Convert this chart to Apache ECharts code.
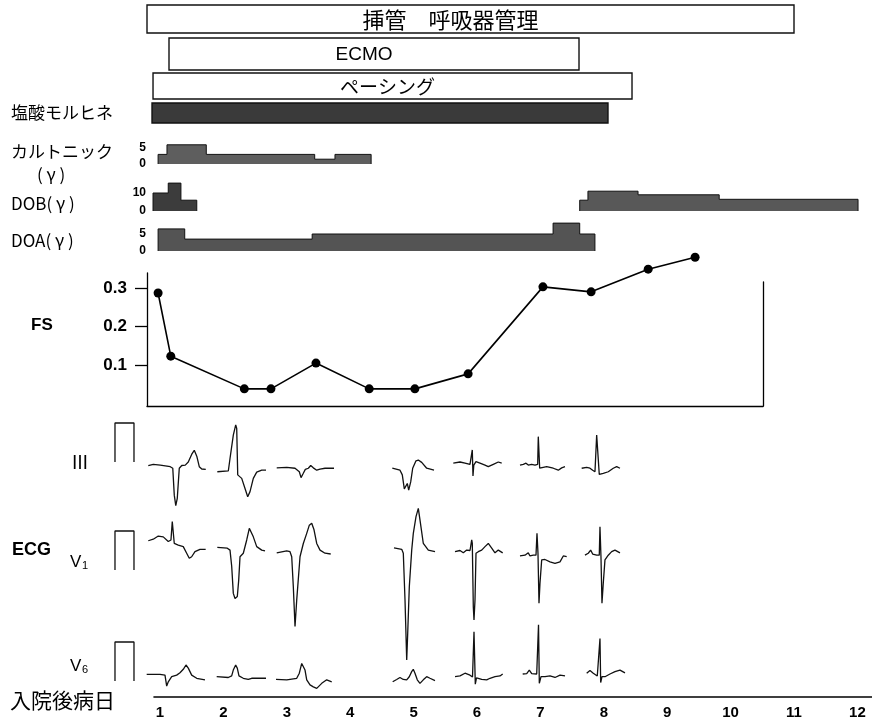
<!DOCTYPE html>
<html><head><meta charset="utf-8">
<script src="https://cdn.jsdelivr.net/npm/echarts@6/dist/echarts.min.js"></script>
<style>html,body{margin:0;padding:0;background:#fff}#c{width:872px;height:726px}</style>
</head><body><div id="c"></div>
<script>
// ===== DATA =====
const dayTicks = [1,2,3,4,5,6,7,8,9,10,11,12];

// therapy periods (day on axis)
const therapyNames = ['挿管　呼吸器管理', 'ECMO', 'ペーシング', ''];
const therapyStart = [0.795, 1.142, 0.89, 0.874];
const therapyEnd   = [11.0, 7.609, 8.445, 8.066];

// infusion doses (γ) : change days and dose held between them
const cartonicDays = [0.97, 1.11, 1.73, 3.44, 3.76, 4.33];
const cartonicDose = [3, 6, 3, 1.5, 3];
const cartonicTicks = [0, 5];
const dobDaysA = [0.89, 1.13, 1.33, 1.58];
const dobDoseA = [10, 15.5, 6];
const dobDaysB = [7.62, 7.75, 8.54, 9.82, 12.01];
const dobDoseB = [6, 11, 9, 6.5];
const dobTicks = [0, 10];
const doaDays = [0.97, 1.39, 3.40, 7.20, 7.62, 7.86];
const doaDose = [6.5, 3.5, 5, 8.2, 5];
const doaTicks = [0, 5];

// FS
const fsDays   = [0.97, 1.17, 2.33, 2.75, 3.46, 4.30, 5.02, 5.86, 7.04, 7.80, 8.70, 9.44];
const fsValues = [0.287, 0.123, 0.038, 0.038, 0.105, 0.038, 0.038, 0.077, 0.303, 0.290, 0.349, 0.380];
const fsTicks  = [0.1, 0.2, 0.3];

// ECG: [ms, mV]
const calibStartDay = 0.29;
const calibPulse = [[0,0],[0,1],[190,1],[190,0]];

const leadIIIStart = [0.815, 1.904, 2.841, 4.664, 5.626, 6.678, 7.651];
const leadIII_d1 = [[0,-0.09],[50,-0.06],[120,-0.08],[220,-0.12],[245,-0.16],[260,-0.85],[275,-1.12],[290,-0.93],[310,-0.16],[335,-0.09],[370,-0.08],[400,0.0],[435,0.2],[460,0.3],[485,0.15],[510,-0.12],[535,-0.18],[575,-0.19]];
const leadIII_d2 = [[0,-0.25],[110,-0.23],[127,0.09],[160,0.69],[184,0.95],[194,0.86],[204,-0.33],[244,-0.42],[277,-0.68],[304,-0.89],[327,-0.76],[360,-0.42],[394,-0.26],[444,-0.21],[487,-0.21]];
const leadIII_d3 = [[0,-0.15],[100,-0.14],[183,-0.16],[226,-0.25],[243,-0.4],[266,-0.29],[286,-0.19],[316,-0.16],[340,-0.09],[366,-0.15],[400,-0.21],[433,-0.18],[483,-0.16],[500,-0.12],[573,-0.16]];
const leadIII_d5 = [[0,-0.16],[77,-0.21],[100,-0.33],[120,-0.69],[134,-0.72],[150,-0.55],[164,-0.72],[184,-0.51],[204,-0.16],[237,0.03],[260,0.05],[294,-0.01],[344,-0.16],[417,-0.21]];
const leadIII_d6 = [[0,-0.03],[67,0.0],[117,-0.03],[167,-0.06],[182,-0.1],[190,0.31],[197,-0.36],[205,-0.08],[227,0.01],[267,-0.03],[317,-0.08],[350,-0.12],[400,-0.06],[450,0.0],[484,-0.03]];
const leadIII_d7 = [[0,-0.08],[33,-0.06],[60,-0.03],[83,-0.08],[117,-0.06],[150,-0.08],[177,-0.06],[183,0.65],[190,0.65],[197,-0.16],[217,-0.12],[267,-0.12],[333,-0.16],[383,-0.21],[417,-0.15],[450,-0.12]];
const leadIII_d8 = [[0,-0.16],[50,-0.14],[83,-0.16],[110,-0.21],[133,-0.25],[150,0.69],[160,0.69],[176,-0.32],[216,-0.29],[266,-0.25],[316,-0.16],[350,-0.12],[383,-0.16]];

const leadV1Start = [0.815, 1.904, 2.841, 4.691, 5.653, 6.678, 7.703];
const leadV1_d1 = [[0,0.75],[50,0.79],[100,0.87],[150,0.85],[200,0.73],[227,0.77],[240,1.24],[250,1.2],[260,0.68],[300,0.64],[350,0.6],[384,0.43],[410,0.3],[434,0.34],[467,0.47],[517,0.53],[574,0.53]];
const leadV1_d2 = [[0,0.58],[100,0.56],[127,0.51],[144,0.09],[160,-0.6],[177,-0.73],[200,-0.68],[214,-0.26],[227,0.34],[260,0.43],[294,0.77],[320,1.07],[337,1.11],[360,0.85],[394,0.6],[444,0.51],[477,0.49]];
const leadV1_d3 = [[0,0.44],[100,0.49],[133,0.47],[150,0.34],[166,-0.43],[183,-1.45],[200,-0.77],[233,0.34],[266,0.68],[300,0.94],[326,1.15],[350,1.2],[373,1.03],[400,0.68],[433,0.51],[483,0.43],[540,0.41]];
const leadV1_d5 = [[0,0.57],[77,0.53],[93,0.43],[110,-0.77],[127,-2.31],[137,-1.62],[153,-0.43],[177,0.51],[193,0.94],[220,1.37],[243,1.58],[260,1.28],[293,0.68],[343,0.51],[410,0.47]];
const leadV1_d6 = [[0,0.47],[50,0.5],[83,0.44],[117,0.51],[150,0.5],[167,0.77],[173,0.68],[183,-0.94],[190,-1.28],[200,-0.77],[210,0.43],[233,0.47],[267,0.51],[300,0.6],[333,0.68],[367,0.56],[400,0.44],[433,0.51],[477,0.44]];
const leadV1_d7 = [[0,0.36],[50,0.38],[83,0.44],[100,0.36],[133,0.38],[160,0.38],[170,0.94],[180,0.43],[190,-0.85],[200,-0.34],[217,0.26],[250,0.27],[300,0.21],[350,0.17],[400,0.21],[433,0.36],[467,0.34]];
const leadV1_d8 = [[0,0.38],[33,0.43],[57,0.51],[77,0.41],[117,0.38],[143,0.38],[150,1.11],[160,0.34],[170,-0.85],[183,-0.34],[200,0.26],[233,0.38],[267,0.47],[300,0.51],[350,0.44]];

const leadV6Start = [0.790, 1.894, 2.830, 4.670, 5.653, 6.721, 7.730];
const leadV6_d1 = [[0,0.17],[133,0.17],[183,0.15],[200,-0.13],[216,-0.02],[250,0.11],[300,0.15],[333,0.21],[366,0.3],[393,0.41],[416,0.33],[450,0.15],[500,0.07],[583,0.03]];
const leadV6_d2 = [[0,0.11],[116,0.09],[150,0.13],[166,0.28],[190,0.41],[206,0.33],[223,0.13],[266,0.07],[316,0.04],[350,0.07],[493,0.07]];
const leadV6_d3 = [[0,0.04],[107,0.03],[207,0.07],[233,0.2],[257,0.45],[273,0.49],[290,0.28],[307,0.03],[340,-0.1],[373,-0.15],[407,-0.19],[457,-0.06],[507,0.03],[557,-0.02]];
const leadV6_d5 = [[0,-0.02],[40,0.04],[73,0.09],[106,0.04],[140,0.03],[166,0.11],[190,0.24],[206,0.3],[223,0.2],[246,0.03],[273,-0.06],[306,0.03],[340,0.11],[373,0.07],[423,0.01]];
const leadV6_d6 = [[0,0.11],[50,0.13],[100,0.2],[150,0.15],[175,0.1],[190,1.26],[203,-0.08],[215,0.08],[267,0.04],[317,0.03],[350,0.07],[400,0.11],[450,0.13],[477,0.18]];
const leadV6_d7 = [[0,0.18],[40,0.19],[66,0.28],[90,0.19],[140,0.18],[158,1.44],[166,-0.06],[183,0.11],[223,0.11],[273,0.13],[323,0.09],[373,0.15],[423,0.13]];
const leadV6_d8 = [[0,0.2],[33,0.27],[66,0.2],[106,0.13],[133,1.09],[140,-0.04],[153,0.11],[183,0.11],[233,0.18],[283,0.24],[333,0.28],[383,0.21]];

// ===== LAYOUT / HELPERS =====
const PX_DAY1 = 160, PX_PER_DAY = 63.4, W = 872;
const MS_PER_DAY = 634;      // ECG paper time per axis day unit
const PX_PER_MV = 39;
const JP = '"Noto Sans CJK JP"';
const LAT = '"Liberation Sans", Arial, sans-serif';
function xRange(l, r){ return {min: 1 + (l - PX_DAY1)/PX_PER_DAY, max: 1 + (r - PX_DAY1)/PX_PER_DAY}; }

const grids=[], xAxes=[], yAxes=[], series=[];
function addGrid(l, r, top, h, yOpt, xOpt){
  grids.push({left:l, width:r-l, top:top, height:h, containLabel:false, outerBoundsMode:'none'});
  const gi = grids.length-1, xr = xRange(l, r);
  xAxes.push(Object.assign({type:'value', gridIndex:gi, min:xr.min, max:xr.max, show:false, splitLine:{show:false}}, xOpt||{}));
  yAxes.push(Object.assign({type:'value', gridIndex:gi, show:false, splitLine:{show:false}}, yOpt||{}));
  return gi;
}

// ---- therapy rows ----
const rowLayout = [
  {top:5,  h:28, fill:'#fff', font:'22px '+JP, dx:-20},
  {top:38, h:32, fill:'#fff', font:'19px '+LAT, dx:-10},
  {top:73, h:26, fill:'#fff', font:'19px '+JP, dx:-5},
  {top:103,h:20, fill:'#3a3a3a', font:'12px '+JP, dx:0}
];
therapyNames.forEach((name, i) => {
  const L = rowLayout[i];
  const gi = addGrid(0, W, L.top, L.h, {min:0, max:1});
  series.push({
    type:'custom', xAxisIndex:gi, yAxisIndex:gi, silent:true,
    data:[[therapyStart[i], therapyEnd[i]]],
    renderItem:(params, api) => {
      const p0 = api.coord([api.value(0), 1]);
      const p1 = api.coord([api.value(1), 0]);
      return {type:'group', children:[
        {type:'rect', shape:{x:p0[0], y:p0[1], width:p1[0]-p0[0], height:p1[1]-p0[1]},
         style:{fill:L.fill, stroke:'#111', lineWidth:1.4}},
        {type:'text', style:{text:name, x:(p0[0]+p1[0])/2 + L.dx, y:(p0[1]+p1[1])/2 + 1,
         align:'center', verticalAlign:'middle', font:L.font, fill:'#000'}}
      ]};
    }
  });
});

// ---- step dose charts ----
function stepData(days, doses){
  const d = [[days[0], 0]];
  for (let i=0;i<doses.length;i++) d.push([days[i], doses[i]]);
  d.push([days[days.length-1], doses[doses.length-1]]);
  d.push([days[days.length-1], 0]);
  return d;
}
function stepGrid(zeroPx, pxPerUnit, vmax, ticks){
  return addGrid(150, W, zeroPx - vmax*pxPerUnit, vmax*pxPerUnit, {
    show:true, min:0, max:vmax,
    axisLine:{show:false}, axisTick:{show:false},
    axisLabel:{show:true, customValues:ticks, margin:4, color:'#000',
      fontFamily:LAT, fontWeight:'bold', fontSize:12}
  });
}
function stepSeries(gi, data, color){
  series.push({type:'line', xAxisIndex:gi, yAxisIndex:gi, step:'end', data:data, showSymbol:false,
    symbol:'none', silent:true, clip:false,
    lineStyle:{color:'#111', width:1}, areaStyle:{color:color, opacity:1}});
}
const gCart = stepGrid(164, 3.2, 7, cartonicTicks);
stepSeries(gCart, stepData(cartonicDays, cartonicDose), '#5e5e5e');
const gDob = stepGrid(211, 1.8, 17, dobTicks);
stepSeries(gDob, stepData(dobDaysA, dobDoseA), '#3c3c3c');
stepSeries(gDob, stepData(dobDaysB, dobDoseB), '#585858');
const gDoa = stepGrid(251, 3.4, 8.5, doaTicks);
stepSeries(gDoa, stepData(doaDays, doaDose), '#545454');

// ---- FS chart ----
const fsMin = -0.0065, fsMax = 0.339;
const gFs = addGrid(147, 763, 273, 133, {
  show:true, min:fsMin, max:fsMax,
  axisLine:{show:true, onZero:false, lineStyle:{color:'#000', width:1.3}},
  axisTick:{show:true, customValues:fsTicks, length:12, lineStyle:{color:'#000', width:1.3}},
  axisLabel:{show:true, customValues:fsTicks, margin:20, formatter:v=>v.toFixed(1),
    color:'#000', fontFamily:LAT, fontWeight:'bold', fontSize:17}
},{
  show:true, axisLine:{show:true, onZero:false, lineStyle:{color:'#000', width:1.3}},
  axisTick:{show:false}, axisLabel:{show:false}
});
series.push({type:'line', xAxisIndex:gFs, yAxisIndex:gFs, clip:false, silent:true,
  data: fsDays.map((d,i)=>[d, fsValues[i]]),
  symbol:'circle', symbolSize:9, itemStyle:{color:'#000'},
  lineStyle:{color:'#000', width:1.6}});
// right frame line
addGrid(147, 763, 282, 124, {show:true, position:'right', min:0, max:1,
  axisLine:{show:true, lineStyle:{color:'#000', width:1.3}}, axisTick:{show:false}, axisLabel:{show:false}});

// ---- ECG ----
function leadGrid(baseline, vmin, vmax){
  return addGrid(0, W, baseline - vmax*PX_PER_MV, (vmax-vmin)*PX_PER_MV, {min:vmin, max:vmax});
}
function trace(gi, start, pts){
  series.push({type:'line', xAxisIndex:gi, yAxisIndex:gi, clip:false, silent:true,
    showSymbol:false, symbol:'none', data: pts.map(p=>[start + p[0]/MS_PER_DAY, p[1]]),
    lineStyle:{color:'#111', width:1.3}});
}
const leads = [
  {base:462, vmin:-1.5, vmax:1.3, start:leadIIIStart, traces:[leadIII_d1,leadIII_d2,leadIII_d3,leadIII_d5,leadIII_d6,leadIII_d7,leadIII_d8]},
  {base:570, vmin:-2.6, vmax:1.8, start:leadV1Start, traces:[leadV1_d1,leadV1_d2,leadV1_d3,leadV1_d5,leadV1_d6,leadV1_d7,leadV1_d8]},
  {base:681, vmin:-0.5, vmax:1.6, start:leadV6Start, traces:[leadV6_d1,leadV6_d2,leadV6_d3,leadV6_d5,leadV6_d6,leadV6_d7,leadV6_d8]}
];
leads.forEach(ld => {
  const gi = leadGrid(ld.base, ld.vmin, ld.vmax);
  trace(gi, calibStartDay, calibPulse);
  ld.traces.forEach((t, k) => trace(gi, ld.start[k], t));
});

// ---- bottom day axis ----
addGrid(154, W, 650, 47, {min:0, max:1}, {
  show:true, axisLine:{show:true, onZero:false, lineStyle:{color:'#000', width:1.6}},
  axisTick:{show:false},
  axisLabel:{show:true, customValues:dayTicks, margin:8, color:'#000',
    fontFamily:LAT, fontWeight:'bold', fontSize:15}
});

// ---- text labels ----
function txt(t, x, y, font, extra){
  return {type:'text', silent:true, style:Object.assign({text:t, x:x, y:y, font:font, fill:'#000',
    verticalAlign:'middle', align:'left'}, extra||{})};
}
const graphics = [
  txt('塩酸モルヒネ', 11, 113, '17px '+JP),
  txt('カルトニック', 11, 152, '17px '+JP),
  txt('( γ )', 37, 175, '17px '+JP),
  txt('DOB( γ )', 11, 204, '17px '+JP),
  txt('DOA( γ )', 11, 241, '17px '+JP),
  txt('FS', 31, 325, 'bold 17px '+LAT),
  txt('Ⅲ', 71, 462, '18px '+JP),
  txt('ECG', 12, 550, 'bold 18px '+LAT),
  txt('V', 70, 562, '17px '+LAT),
  txt('1', 82, 566, '11px '+LAT),
  txt('V', 70, 666, '17px '+LAT),
  txt('6', 82, 670, '11px '+LAT),
  txt('入院後病日', 10, 700, '21px '+JP)
];

const chart = echarts.init(document.getElementById('c'));
chart.setOption({
  animation:false, backgroundColor:'#fff',
  grid:grids, xAxis:xAxes, yAxis:yAxes, series:series, graphic:graphics
});
</script></body></html>
